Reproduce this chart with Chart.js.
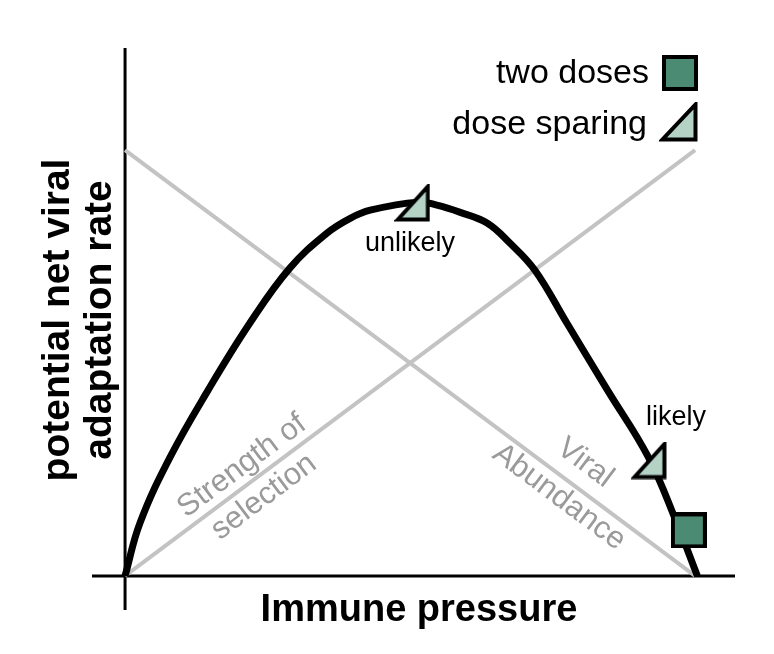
<!DOCTYPE html>
<html>
<head>
<meta charset="utf-8">
<script src="https://cdn.jsdelivr.net/npm/chart.js@4.4.1/dist/chart.umd.min.js"></script>
<style>
  html, body { margin: 0; padding: 0; background: #fff; }
  #wrap { width: 774px; height: 654px; }
</style>
</head>
<body>
<div id="wrap"><canvas id="adaptChart" width="774" height="654"></canvas></div>
<script>
// curve (x = immune pressure, y = adaptation rate, 0..100 units)
const curveX = [0, 2.6, 7.9, 14.6, 21.9, 28.9, 35.4, 39.5, 43.0, 51.4, 54.7, 58.8, 63.5, 67.5, 71.9, 77.5, 84.6, 91.8, 96.8, 100.4];
const curveY = [0, 12.4, 27.9, 43.7, 59.4, 72.3, 80.5, 84.0, 85.9, 87.8, 87.1, 85.4, 82.9, 78.2, 71.8, 59.4, 43.7, 27.9, 12.4, 0];

// gray guide lines
const selectionX = [0, 100];
const selectionY = [0, 100];
const abundanceX = [0, 100];
const abundanceY = [100, 0];

// markers
const doseSparingX = [50.4, 91.9];
const doseSparingY = [87.6, 27.1];
const twoDosesX = [98.9];
const twoDosesY = [10.7];

// axis extents
const xRange = [-5.8, 107];
const yRange = [-8, 124];

const toPoints = (xs, ys) => xs.map((x, i) => ({ x: x, y: ys[i] }));

const DARK = '#4b8a73';
const LIGHT = '#b5d2c7';
const GRAY = '#c3c3c3';
const GRAY_TEXT = '#9a9a9a';
const FONT = '"Liberation Sans", Arial, Helvetica, sans-serif';

// marker images
function triangleImg(w, h) {
    const c = document.createElement('canvas');
    c.width = w; c.height = h;
    const g = c.getContext('2d');
    const b = 2.5;
    g.beginPath();
    g.moveTo(w - b, b);
    g.lineTo(w - b, h - b);
    g.lineTo(b + 1, h - b);
    g.closePath();
    g.fillStyle = LIGHT;
    g.fill();
    g.lineWidth = 4;
    g.lineJoin = 'miter';
    g.strokeStyle = '#000';
    g.stroke();
    return c;
}
function squareImg(s) {
    const c = document.createElement('canvas');
    c.width = s; c.height = s;
    const g = c.getContext('2d');
    g.fillStyle = DARK;
    g.fillRect(2, 2, s - 4, s - 4);
    g.lineWidth = 4;
    g.strokeStyle = '#000';
    g.strokeRect(2, 2, s - 4, s - 4);
    return c;
}
const triImg = triangleImg(36, 38);
const triLegend = triangleImg(39, 40);
const sqImg = squareImg(36);

const textPlugin = {
    id: 'texts',
    afterDatasetsDraw(chart) {
        const ctx = chart.ctx;
        const xs = chart.scales.x, ys = chart.scales.y;
        const px = v => xs.getPixelForValue(v);
        const py = v => ys.getPixelForValue(v);
        ctx.save();

        // x axis title
        ctx.fillStyle = '#000';
        ctx.font = 'bold 38px ' + FONT;
        ctx.textAlign = 'center';
        ctx.textBaseline = 'alphabetic';
        ctx.fillText('Immune pressure', 419, 621);

        // y axis title
        ctx.save();
        ctx.translate(0, 320);
        ctx.rotate(-Math.PI / 2);
        ctx.font = 'bold 39px ' + FONT;
        ctx.fillText('potential net viral', 0, 69);
        ctx.fillText('adaptation rate', 0, 111);
        ctx.restore();

        // annotations
        ctx.font = '27px ' + FONT;
        ctx.textBaseline = 'middle';
        ctx.fillText('unlikely', 410, 244);
        ctx.fillText('likely', 676, 418);

        // gray labels along lines
        const ang = Math.atan2(py(100) - py(0), px(100) - px(0));
        ctx.fillStyle = GRAY_TEXT;
        ctx.font = '31px ' + FONT;
        ctx.save();
        ctx.translate(242, 466);
        ctx.rotate(ang);
        ctx.fillText('Strength of', 0, 0);
        ctx.restore();
        ctx.save();
        ctx.translate(264, 497);
        ctx.rotate(ang);
        ctx.fillText('selection', 0, 0);
        ctx.restore();
        ctx.save();
        ctx.translate(585, 463);
        ctx.rotate(-ang);
        ctx.fillText('Viral', 0, 0);
        ctx.restore();
        ctx.save();
        ctx.translate(559, 497);
        ctx.rotate(-ang);
        ctx.fillText('Abundance', 0, 0);
        ctx.restore();

        // legend
        ctx.fillStyle = '#000';
        ctx.font = '34px ' + FONT;
        ctx.textAlign = 'right';
        ctx.fillText('two doses', 649, 74);
        ctx.fillText('dose sparing', 647, 125);
        ctx.drawImage(sqImg, 662, 55);
        ctx.drawImage(triLegend, 659, 102);

        ctx.restore();
    }
};

new Chart(document.getElementById('adaptChart'), {
    type: 'scatter',
    data: {
        datasets: [
            {
                label: 'two doses',
                data: toPoints(twoDosesX, twoDosesY),
                pointStyle: sqImg,
                pointRadius: 18,
                clip: false,
                order: 0
            },
            {
                label: 'dose sparing',
                data: toPoints(doseSparingX, doseSparingY),
                pointStyle: triImg,
                pointRadius: 18,
                clip: false,
                order: 0
            },
            {
                type: 'line',
                label: 'adaptation rate',
                data: toPoints(curveX, curveY),
                borderColor: '#000',
                borderWidth: 7,
                pointRadius: 0,
                fill: false,
                tension: 0.4,
                cubicInterpolationMode: 'default',
                clip: false,
                order: 1
            },
            {
                label: 'Strength of selection',
                data: toPoints(selectionX, selectionY),
                showLine: true,
                borderColor: GRAY,
                borderWidth: 4,
                pointRadius: 0,
                order: 2
            },
            {
                label: 'Viral Abundance',
                data: toPoints(abundanceX, abundanceY),
                showLine: true,
                borderColor: GRAY,
                borderWidth: 4,
                pointRadius: 0,
                order: 2
            },
            {
                label: 'x axis',
                data: [{ x: xRange[0], y: 0 }, { x: xRange[1], y: 0 }],
                showLine: true,
                borderColor: '#000',
                borderWidth: 3,
                pointRadius: 0,
                order: 3
            },
            {
                label: 'y axis',
                data: [{ x: 0, y: yRange[0] }, { x: 0, y: yRange[1] }],
                showLine: true,
                borderColor: '#000',
                borderWidth: 3,
                pointRadius: 0,
                order: 3
            }
        ]
    },
    options: {
        responsive: false,
        animation: false,
        layout: { padding: { left: 92, right: 39, top: 48, bottom: 44 } },
        scales: {
            x: { type: 'linear', min: xRange[0], max: xRange[1], display: false },
            y: { type: 'linear', min: yRange[0], max: yRange[1], display: false }
        },
        plugins: {
            legend: { display: false },
            tooltip: { enabled: false }
        }
    },
    plugins: [textPlugin]
});
</script>
</body>
</html>
